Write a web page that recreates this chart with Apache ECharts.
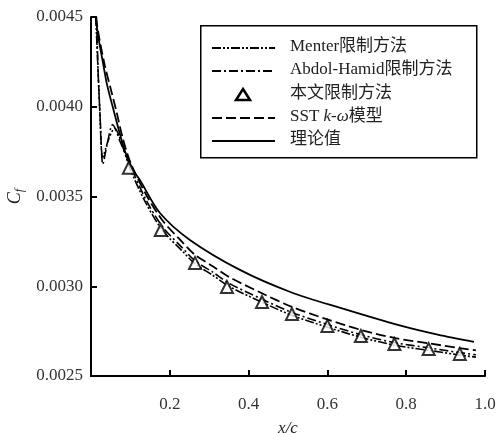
<!DOCTYPE html>
<html><head><meta charset="utf-8">
<script src="https://cdn.jsdelivr.net/npm/echarts@6/dist/echarts.min.js"></script>
<style>html,body{margin:0;padding:0;background:#fff}#c{width:497px;height:433px}</style>
</head><body><div id="c"></div>
<script>
const seriesNames = ['Menter限制方法', 'Abdol-Hamid限制方法', '本文限制方法', 'SST k-ω模型', '理论值'];
const xTicks = [0.2, 0.4, 0.6, 0.8, 1.0];
const yTicks = [0.0025, 0.0030, 0.0035, 0.0040, 0.0045];

const menterX = [0.012,0.016,0.022,0.03,0.045,0.06,0.08,0.1,0.14,0.182,0.23,0.264,0.31,0.35,0.43,0.51,0.6,0.685,0.77,0.857,0.936,0.977];
const menterY = [0.0045,0.0043,0.0040,0.00372,0.00382,0.00388,0.00378,0.00365,0.00346,0.00331,0.00320,0.003125,0.00306,0.00300,0.002915,0.002838,0.002772,0.002716,0.002672,0.002643,0.002617,0.002605];

const abdolX = [0.014,0.018,0.024,0.03,0.04,0.055,0.075,0.1,0.14,0.182,0.23,0.264,0.31,0.35,0.43,0.51,0.6,0.685,0.77,0.857,0.936,0.977];
const abdolY = [0.0045,0.0042,0.0039,0.00368,0.00378,0.0039,0.0038,0.00367,0.00348,0.00333,0.003218,0.003142,0.003077,0.003017,0.002932,0.002854,0.002787,0.00273,0.002686,0.002657,0.00263,0.002618];

const presentX = [0.096,0.177,0.264,0.345,0.434,0.51,0.60,0.685,0.77,0.857,0.936];
const presentY = [0.00366,0.003313,0.00313,0.002996,0.002912,0.002845,0.002779,0.002723,0.002678,0.00265,0.002623];

const sstX = [0.012,0.022,0.035,0.05,0.065,0.08,0.1,0.14,0.182,0.23,0.264,0.31,0.35,0.43,0.51,0.6,0.685,0.77,0.857,0.936,0.977];
const sstY = [0.0045,0.00437,0.00423,0.0041,0.00397,0.00383,0.00369,0.00351,0.003365,0.00325,0.003175,0.00311,0.003052,0.002965,0.002885,0.002815,0.002757,0.002712,0.002682,0.002655,0.002643];

const theoryX = [0.012,0.02,0.03,0.04,0.055,0.085,0.106,0.124,0.175,0.251,0.378,0.506,0.633,0.786,0.88,0.972];
const theoryY = [0.00449,0.00437,0.00425,0.00413,0.0040,0.00376,0.00365,0.003592,0.003408,0.003258,0.003091,0.002968,0.002879,0.00278,0.00273,0.00269];

const zip = (xs, ys) => xs.map((x, i) => [x, ys[i]]);
const serif = '"Liberation Serif","Noto Sans CJK SC",serif';

const dashTypes = [[9, 2, 2, 2, 2, 2], [9, 3, 2, 3], null, [10, 4], null];

// legend drawn as graphic elements (layout only)
const legendGraphic = [{type: 'rect', left: 200, top: 25, shape: {width: 276, height: 132},
  style: {fill: '#fff', stroke: '#000', lineWidth: 1.5}, z: 10}];
const rowY = [48, 71, 95, 118, 141];
seriesNames.forEach((nm, i) => {
  const y = rowY[i];
  if (i === 2) {
    legendGraphic.push({type: 'polygon', shape: {points: [[243, y - 6], [250, y + 5], [236, y + 5]]},
      style: {fill: '#fff', stroke: '#000', lineWidth: 2.5}, z: 11});
  } else {
    legendGraphic.push({type: 'line', shape: {x1: 212, y1: y, x2: 275, y2: y},
      style: {stroke: '#000', lineWidth: i === 4 ? 2 : 1.8, lineDash: dashTypes[i] || null}, z: 11});
  }
  const rich = i === 3
    ? {text: '{a|SST }{b|k-ω}{a|模型}', rich: {a: {fontFamily: serif, fontSize: 17, fill: '#222'}, b: {fontFamily: serif, fontSize: 17, fontStyle: 'italic', fill: '#222'}}}
    : {text: nm};
  legendGraphic.push({type: 'text', left: 290, top: y - 10, z: 11,
    style: Object.assign({fontFamily: serif, fontSize: 17, fill: '#222'}, rich)});
});

const chart = echarts.init(document.getElementById('c'), null, {renderer: 'canvas'});
const lineBase = {type: 'line', symbol: 'none', showSymbol: false, smooth: 0.3, clip: true, z: 2};
chart.setOption({
  animation: false,
  backgroundColor: '#fff',
  grid: {left: 91, right: 12, top: 17, bottom: 57, containLabel: false, outerBoundsMode: 'none'},
  graphic: legendGraphic,
  xAxis: {
    type: 'value', min: 0, max: 1, interval: 0.2,
    name: 'x/c', nameLocation: 'middle', nameGap: 44,
    nameTextStyle: {fontFamily: serif, fontStyle: 'italic', fontSize: 17, color: '#222'},
    axisLine: {show: true, lineStyle: {color: '#000', width: 2}},
    axisTick: {show: true, inside: true, length: 6, lineStyle: {color: '#000', width: 2}},
    splitLine: {show: false},
    axisLabel: {fontFamily: serif, fontSize: 17, color: '#333', margin: 20,
      formatter: v => (xTicks.some(t => Math.abs(t - v) < 1e-9) ? v.toFixed(1) : '')}
  },
  yAxis: {
    type: 'value', min: 0.0025, max: 0.0045, interval: 0.0005,
    name: '{c|C}{f|f}', nameLocation: 'middle', nameGap: 60, nameRotate: 90,
    nameTextStyle: {rich: {
      c: {fontFamily: serif, fontStyle: 'italic', fontSize: 18, color: '#222'},
      f: {fontFamily: serif, fontStyle: 'italic', fontSize: 12, color: '#222', verticalAlign: 'bottom', padding: [8, 0, 0, 0]}
    }},
    axisLine: {show: true, lineStyle: {color: '#000', width: 2}},
    axisTick: {show: true, inside: true, length: 6, lineStyle: {color: '#000', width: 2}},
    splitLine: {show: false},
    axisLabel: {fontFamily: serif, fontSize: 17, color: '#333', margin: 8,
      formatter: v => {const t = yTicks.find(t => Math.abs(t - v) < 1e-9); return t === undefined ? '' : t.toFixed(4);}}
  },
  series: [
    Object.assign({}, lineBase, {name: seriesNames[0], data: zip(menterX, menterY),
      lineStyle: {color: '#000', width: 1.6, type: dashTypes[0]}}),
    Object.assign({}, lineBase, {name: seriesNames[1], data: zip(abdolX, abdolY),
      lineStyle: {color: '#000', width: 1.6, type: dashTypes[1]}}),
    {type: 'scatter', name: seriesNames[2], data: zip(presentX, presentY), symbol: 'triangle', symbolSize: 12, z: 5,
      itemStyle: {color: '#fff', borderColor: '#000', borderWidth: 2}},
    Object.assign({}, lineBase, {name: seriesNames[3], data: zip(sstX, sstY),
      lineStyle: {color: '#000', width: 1.8, type: dashTypes[3]}}),
    Object.assign({}, lineBase, {name: seriesNames[4], data: zip(theoryX, theoryY),
      lineStyle: {color: '#000', width: 1.8, type: 'solid'}})
  ]
});
</script></body></html>
